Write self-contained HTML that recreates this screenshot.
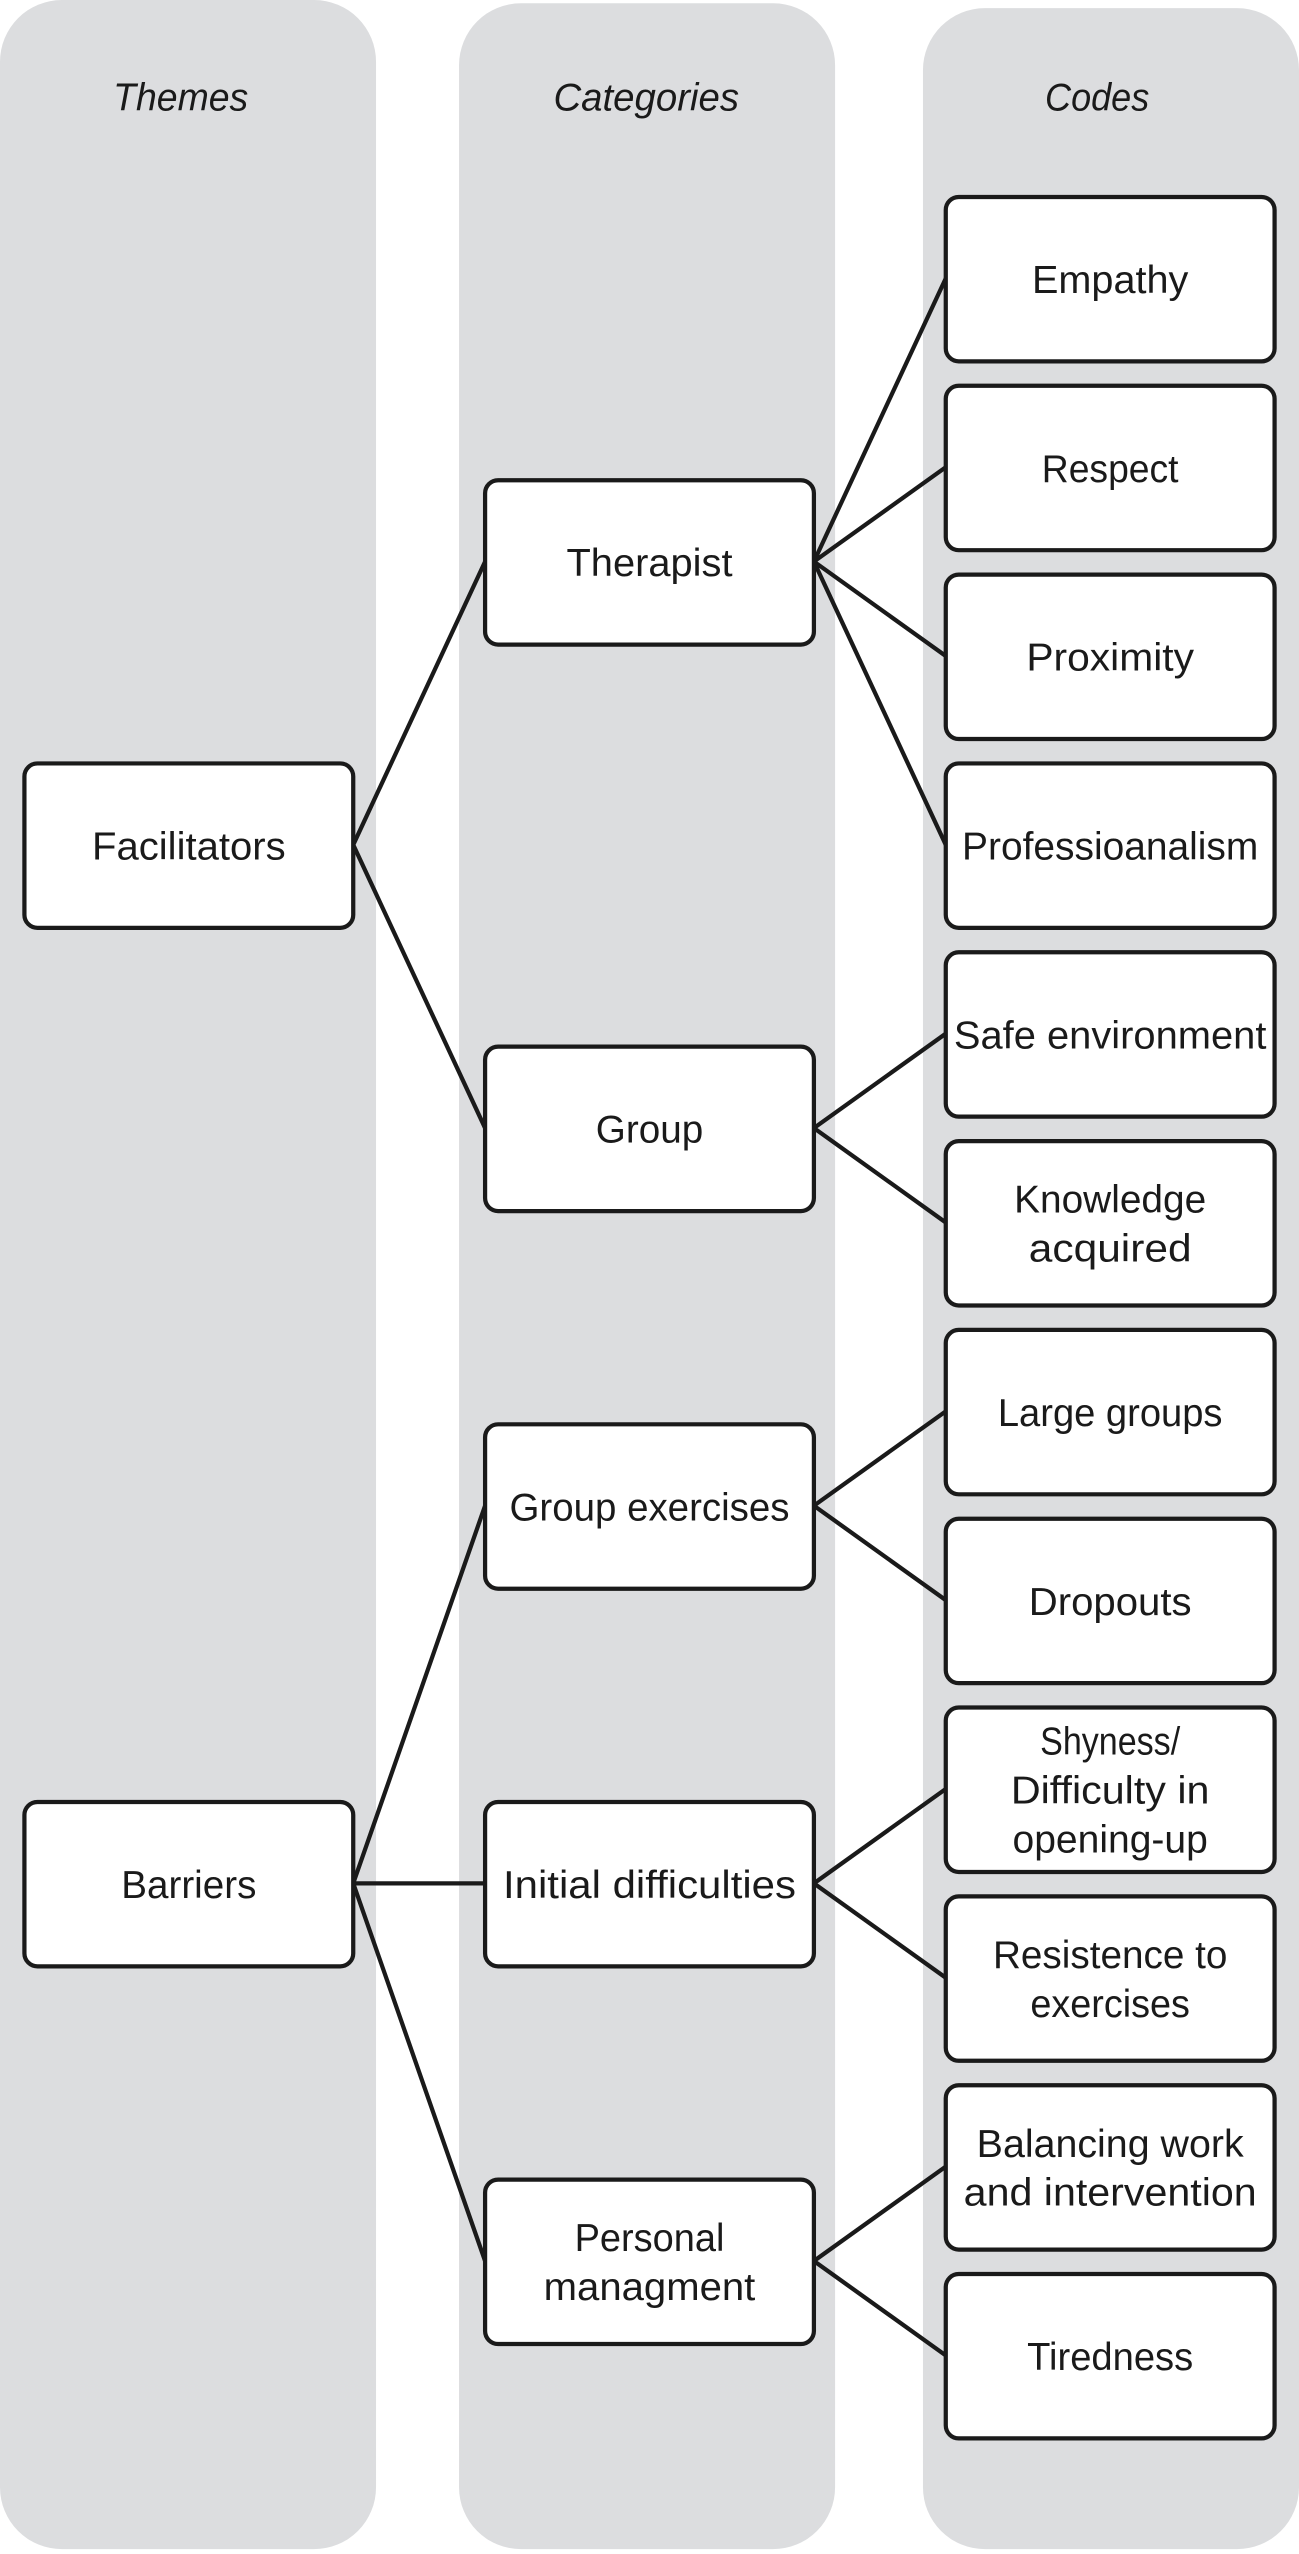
<!DOCTYPE html>
<html><head><meta charset="utf-8"><style>html,body{margin:0;padding:0;background:#fff}svg{display:block}</style></head>
<body>
<svg width="1299" height="2554" viewBox="0 0 798 1569" preserveAspectRatio="none" xmlns="http://www.w3.org/2000/svg" font-family="Liberation Sans, sans-serif" font-size="24" fill="#1a1a1a">
<rect x="0" y="0" width="231" height="1566" rx="38" fill="#dcdddf"/>
<rect x="282" y="2" width="231" height="1564" rx="38" fill="#dcdddf"/>
<rect x="567" y="5" width="231" height="1561" rx="38" fill="#dcdddf"/>
<g font-style="italic" text-anchor="middle" font-size="24">
<text x="111" y="68" textLength="83" lengthAdjust="spacingAndGlyphs">Themes</text><text x="397" y="68" textLength="114" lengthAdjust="spacingAndGlyphs">Categories</text><text x="674" y="68" textLength="64" lengthAdjust="spacingAndGlyphs">Codes</text>
</g>
<g stroke="#1a1a1a" stroke-width="2.6" fill="none">
<path d="M217 519L298 345M217 519L298 693M217 1157L298 925M217 1157L298 1157M217 1157L298 1389"/>
<path d="M500 345L581 171M500 345L581 287M500 345L581 403M500 345L581 519"/>
<path d="M500 693L581 635M500 693L581 751M500 925L581 867M500 925L581 983M500 1157L581 1099M500 1157L581 1215M500 1389L581 1331M500 1389L581 1447"/>
</g>
<g fill="#fff" stroke="#1a1a1a" stroke-width="2.6">
<rect x="15" y="469" width="202" height="101" rx="8"/><rect x="15" y="1107" width="202" height="101" rx="8"/>
<rect x="298" y="295" width="202" height="101" rx="8"/><rect x="298" y="643" width="202" height="101" rx="8"/><rect x="298" y="875" width="202" height="101" rx="8"/><rect x="298" y="1107" width="202" height="101" rx="8"/><rect x="298" y="1339" width="202" height="101" rx="8"/>
<rect x="581" y="121" width="202" height="101" rx="8"/><rect x="581" y="237" width="202" height="101" rx="8"/><rect x="581" y="353" width="202" height="101" rx="8"/><rect x="581" y="469" width="202" height="101" rx="8"/><rect x="581" y="585" width="202" height="101" rx="8"/><rect x="581" y="701" width="202" height="101" rx="8"/><rect x="581" y="817" width="202" height="101" rx="8"/><rect x="581" y="933" width="202" height="101" rx="8"/><rect x="581" y="1049" width="202" height="101" rx="8"/><rect x="581" y="1165" width="202" height="101" rx="8"/><rect x="581" y="1281" width="202" height="101" rx="8"/><rect x="581" y="1397" width="202" height="101" rx="8"/>
</g>
<g text-anchor="middle" lengthAdjust="spacingAndGlyphs">
<text x="116" y="528" textLength="119" lengthAdjust="spacingAndGlyphs">Facilitators</text><text x="116" y="1166" textLength="83" lengthAdjust="spacingAndGlyphs">Barriers</text>
<text x="399" y="354" textLength="102" lengthAdjust="spacingAndGlyphs">Therapist</text><text x="399" y="702" textLength="66" lengthAdjust="spacingAndGlyphs">Group</text><text x="399" y="934" textLength="172" lengthAdjust="spacingAndGlyphs">Group exercises</text><text x="399" y="1166" textLength="180" lengthAdjust="spacingAndGlyphs">Initial difficulties</text>
<text x="399" y="1383" textLength="92" lengthAdjust="spacingAndGlyphs">Personal</text><text x="399" y="1413" textLength="130" lengthAdjust="spacingAndGlyphs">managment</text>
<text x="682" y="180" textLength="96" lengthAdjust="spacingAndGlyphs">Empathy</text><text x="682" y="296" textLength="84" lengthAdjust="spacingAndGlyphs">Respect</text><text x="682" y="412" textLength="103" lengthAdjust="spacingAndGlyphs">Proximity</text>
<text x="682" y="528" textLength="182" lengthAdjust="spacingAndGlyphs">Professioanalism</text>
<text x="682" y="644" textLength="192" lengthAdjust="spacingAndGlyphs">Safe environment</text>
<text x="682" y="745" textLength="118" lengthAdjust="spacingAndGlyphs">Knowledge</text><text x="682" y="775" textLength="100" lengthAdjust="spacingAndGlyphs">acquired</text>
<text x="682" y="876" textLength="138" lengthAdjust="spacingAndGlyphs">Large groups</text><text x="682" y="992" textLength="100" lengthAdjust="spacingAndGlyphs">Dropouts</text>
<text x="682" y="1078" textLength="86" lengthAdjust="spacingAndGlyphs">Shyness/</text><text x="682" y="1108" textLength="122" lengthAdjust="spacingAndGlyphs">Difficulty in</text><text x="682" y="1138" textLength="120" lengthAdjust="spacingAndGlyphs">opening-up</text>
<text x="682" y="1209" textLength="144" lengthAdjust="spacingAndGlyphs">Resistence to</text><text x="682" y="1239" textLength="98" lengthAdjust="spacingAndGlyphs">exercises</text>
<text x="682" y="1325" textLength="164" lengthAdjust="spacingAndGlyphs">Balancing work</text><text x="682" y="1355" textLength="180" lengthAdjust="spacingAndGlyphs">and intervention</text>
<text x="682" y="1456" textLength="102" lengthAdjust="spacingAndGlyphs">Tiredness</text>
</g>
</svg>
</body></html>
